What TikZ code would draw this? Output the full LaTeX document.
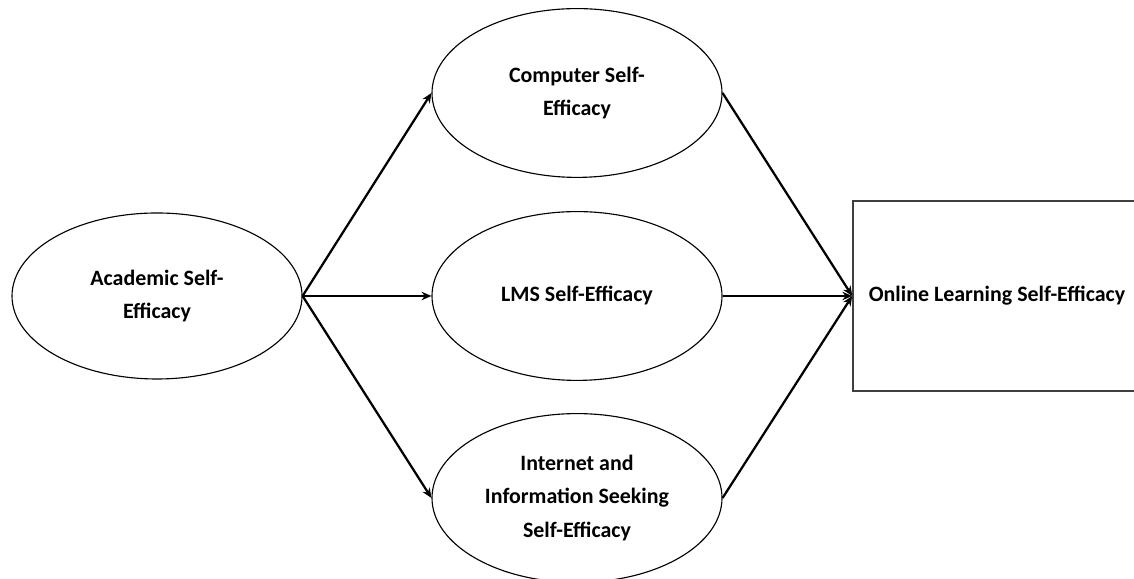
\documentclass[tikz,border=0pt]{standalone}
\usepackage{fontspec}
\setmainfont{Carlito}
\usetikzlibrary{shapes.geometric,arrows.meta}

\begin{document}
\begin{tikzpicture}[
    % Styles des variables
    latent/.style={ellipse, draw=black, line width=0.8pt, inner sep=0pt,
                   minimum width=7.25cm, minimum height=4.22cm, align=center,
                   font=\bfseries\fontsize{15.6}{23.5}\selectfont},
    outcome/.style={rectangle, draw=black!75, line width=1.1pt, inner sep=0pt,
                    minimum width=7.2cm, minimum height=4.75cm, align=center,
                    font=\bfseries\fontsize{15.6}{23.5}\selectfont},
    % Style des fleches
    arrow/.style={-{Stealth[length=7pt,width=6pt]}, line width=1.6pt}
]
\useasboundingbox (0,0) rectangle (28.35,14.475);

% Variable de depart
\node[latent, minimum height=4.15cm] (academic) at (3.925, 7.075) {Academic Self-\\Efficacy};

% Mediateurs
\node[latent] (computer) at (14.425, 12.15) {Computer Self-\\Efficacy};
\node[latent] (lms) at (14.425, 7.075) {LMS Self-Efficacy};
\node[latent] (internet) at (14.425, 2.025) {Internet and\\Information Seeking\\Self-Efficacy};

% Variable finale
\node[outcome] (online) at (24.925, 7.075) {Online Learning Self-Efficacy};

% Fleches
\draw[arrow] (academic.east) -- (computer.west);
\draw[arrow] (academic.east) -- (lms.west);
\draw[arrow] (academic.east) -- (internet.west);
\draw[arrow] (computer.east) -- (online.west);
\draw[arrow] (lms.east) -- (online.west);
\draw[arrow] (internet.east) -- (online.west);

\end{tikzpicture}
\end{document}
